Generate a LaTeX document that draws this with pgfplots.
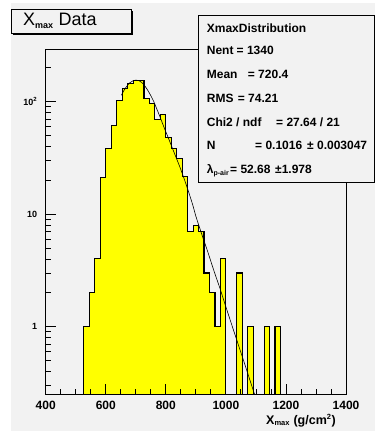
\documentclass[border=0pt]{standalone}
\usepackage{pgfplots}
\pgfplotsset{compat=1.18}
\usepackage{fontspec}
\setmainfont{Liberation Sans}
\definecolor{canvas}{RGB}{242,242,242}
\definecolor{histyellow}{RGB}{255,255,0}

\begin{document}
\begin{tikzpicture}[x=1pt,y=1pt]
\useasboundingbox (0,0) rectangle (375,433);
\fill[white] (0,0) rectangle (375,433);
\fill[canvas] (11,2) rectangle (375,430);

\begin{axis}[
  at={(45.7pt,39pt)}, anchor=south west,
  scale only axis, width=300.3pt, height=344.7pt,
  xmin=400, xmax=1400,
  ymode=log, ymin=0.252, ymax=292,
  axis background/.style={fill=canvas},
  axis line style={line width=0.9pt, black},
  axis on top,
  tick pos=left, tick align=inside,
  major tick length=10pt, minor tick length=5pt,
  tick style={black, line width=0.8pt},
  xtick={400,600,...,1400}, minor x tick num=3,
  xticklabels={400,600,800,1000,1200,1400},
  ytick={0.1,1,10,100,1000},
  yticklabels={,{1},{10},{10\textsuperscript{2}},},
  /pgf/number format/assume math mode=true,
  xticklabel style={font=\bfseries\fontsize{12}{12}\selectfont, yshift=-4pt},
  yticklabel style={font=\bfseries\fontsize{9}{9}\selectfont, xshift=-5pt},
]
% Xmax histogram, bins of 200/11 g/cm^2
\addplot[draw=black, line width=1.1pt, fill=histyellow, const plot] coordinates {
  (527.27,0.01) (527.27,1) (545.45,2) (563.64,4) (581.82,21) (600,38)
  (618.18,61) (636.36,102) (654.55,130) (672.73,145) (690.91,153)
  (709.09,154) (727.27,107) (745.45,97) (763.64,69) (781.82,77)
  (800,48) (818.18,38) (836.36,31) (854.55,21.5) (872.73,7) (890.91,8)
  (909.09,7) (927.27,3) (945.45,2) (963.64,1) (981.82,4) (1000,0.01)
  (1036.36,0.01) (1036.36,3) (1054.55,0.01)
  (1072.73,0.01) (1072.73,1) (1090.91,0.01)
  (1127.27,0.01) (1127.27,1) (1145.45,0.01)
  (1163.64,0.01) (1163.64,1) (1181.82,0.01)
};
% fitted Xmax distribution
\addplot[black, line width=0.6pt, smooth, no marks] coordinates {
  (652,114) (660,125) (670,137) (680,147) (690,153) (700,155.5) (710,154)
  (720,148) (730,138) (740,126) (750,113) (760,100) (770,86) (780,74)
  (790,63) (800,54) (815,43) (830,34) (845,27) (860,21) (875,16)
  (890,12) (900,9.6) (920,6.6) (940,4.6) (960,3.15) (980,2.2) (1000,1.5)
  (1020,1.03) (1040,0.71) (1060,0.49) (1080,0.335) (1100,0.23)
};
\end{axis}

% histogram title
\fill[black] (13,397.5) rectangle (133,399.5);
\fill[black] (131,397.5) rectangle (133,421.7);
\filldraw[fill=canvas, draw=black, line width=0.8pt] (11,399.5) rectangle (131,423.7);
\node[anchor=base west, inner sep=0] at (23,407)
  {\fontsize{18}{18}\selectfont X\textsubscript{\bfseries\fontsize{9}{9}\selectfont max} Data};

% statistics box
\filldraw[fill=canvas, draw=black, line width=0.8pt] (198.3,250.3) rectangle (374,418);
\begin{scope}[every node/.style={anchor=base west, inner sep=0,
    font=\bfseries\fontsize{12}{12}\selectfont}]
\node at (206.7,400.7) {XmaxDistribution};
\node at (206.7,378) {Nent};        \node at (236.5,378) {= 1340};
\node at (206.7,354) {Mean};        \node at (247.7,354) {= 720.4};
\node at (206.7,330.3) {RMS};       \node at (237.7,330.3) {= 74.21};
\node at (206.7,306.3) {Chi2 / ndf}; \node at (276,306.3) {= 27.64 / 21};
\node at (206.7,283) {N};           \node at (255,283) {= 0.1016};
\node at (307,283) {± 0.003047};
\node at (206.7,259.7) {λ\textsubscript{\fontsize{7}{7}\selectfont p-air}};
\node at (230,259.7) {= 52.68};   \node at (275,259.7) {±1.978};
\end{scope}

% x axis title
\node[anchor=base west, inner sep=0, font=\bfseries\fontsize{12.5}{12.5}\selectfont]
  at (266,9) {X\textsubscript{\fontsize{7.5}{7.5}\selectfont max} (g/cm\textsuperscript{\fontsize{7.5}{7.5}\selectfont 2})};
\end{tikzpicture}
\end{document}
